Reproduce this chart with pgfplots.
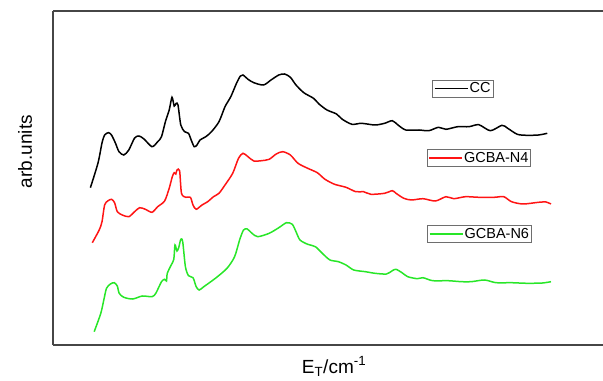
\documentclass[border=0pt]{standalone}
\usepackage{fontspec}
\setmainfont{Liberation Sans}
\usepackage{pgfplots}
\pgfplotsset{compat=1.18}
\definecolor{axgray}{RGB}{70,70,70}
\definecolor{leggray}{RGB}{110,110,110}
\definecolor{cred}{RGB}{255,20,20}
\definecolor{cgreen}{RGB}{40,230,40}
\pgfplotsset{
  base/.style={
    scale only axis, width=550bp, height=334bp,
    xmin=53, xmax=603, ymin=0, ymax=334,
    xtick=\empty, ytick=\empty, clip=false, hide axis,
    legend cell align=left,
    legend style={draw=leggray, line width=0.8bp, inner xsep=1.2bp, inner ysep=1.5bp,
      font=\fontsize{14.5bp}{17bp}\selectfont, fill=white,
      nodes={inner sep=1.2bp}},
    legend image code/.code={\draw[##1] (0bp,0bp) -- (33bp,0bp);},
    legend image post style={line width=1.5bp},
  },
  curve/.style={line width=1.5bp, smooth, tension=0.45, no marks},
}
\begin{document}
\begin{tikzpicture}
\begin{axis}[base,
  legend style={at={(axis cs:432.3,265.3)}, anchor=north west}]
\draw[axgray, line width=1.3bp] (rel axis cs:0,0) -- (rel axis cs:0,1);
\draw[axgray, line width=1.3bp] (rel axis cs:0,1) -- (rel axis cs:1,1);
\draw[axgray, line width=1.3bp] (rel axis cs:0,0) -- (rel axis cs:1,0);
\node[rotate=90, anchor=center, font=\fontsize{19bp}{22bp}\selectfont] at (rel axis cs:-0.0509,0.579) {arb.units};
\node[anchor=base, font=\fontsize{19bp}{22bp}\selectfont] at (rel axis cs:0.511,-0.0847) {E\textsubscript{T}/cm\textsuperscript{-1}};
\addplot[curve, black] coordinates {
(90.4,157.3) (98,182) (102,202) (104.6,210) (108.5,212.3) (111.5,210) (115.4,202) (119,193.3)
(123.8,190) (128.8,195) (134.6,207) (139,209) (144,206) (152,198.3) (157.7,203.3) (161.5,208.3)
(165.4,223.3) (169.2,235) (172,247.7) (174.2,239) (176.2,241.7) (178,240) (180.8,220) (184.6,213.3)
(188.5,211.7) (191.2,205) (194.2,198.3) (197,200) (200,205) (205.8,208.3) (211.5,213.3) (219,223.3)
(225,238.3) (230.8,248.3) (236.5,261.7) (240.4,269) (243,270) (248,265.7) (253.8,262.3) (263.5,260)
(271,265) (278.8,270) (284.6,271) (290.4,267.7) (296,260) (303.8,252.3) (313.5,246.7) (319,241)
(327,235) (336.5,231) (342.3,225.7) (352,220.7) (361.5,221.7) (375,220) (384.6,221.7) (392.3,224.3)
(398,220) (405.8,215) (419,215) (428.8,214.3) (438.5,217.7) (446,215.7) (457.7,218.3) (469,218.3)
(478.8,220.3) (490.4,214.3) (502,219.7) (507.7,216.7) (517.3,210.7) (527,209.7) (538.5,210) (547.3,211.7)
};
\addlegendentry{CC}
\end{axis}
\begin{axis}[base,
  legend style={at={(axis cs:426.7,195.7)}, anchor=north west}]
\addplot[curve, cred] coordinates {
(92.3,102.3) (99.2,115) (102,123.3) (104.6,140) (107.7,144) (111.5,145.7) (114.6,142.3) (117.3,133.3)
(122.3,130) (128.8,128.3) (134.6,133.3) (139.6,137.3) (145.4,135.7) (152,132.7) (157.7,138.3) (164.6,144)
(169.2,156.7) (172.3,168.3) (174.2,172.3) (175.8,171) (177,175) (179.6,174.3) (181.5,151.7) (185.8,147.7)
(190.4,147.7) (193,140) (196.2,135.7) (202,140) (207.7,143.3) (213.5,148.3) (219,151.7) (225,160)
(232.7,171.7) (238.5,186.7) (243,191.7) (248,188.3) (253.8,184) (261.5,184.3) (269.2,185.7) (276.2,191)
(282.7,193.3) (290.4,190) (298,181.7) (307.7,176.7) (317.3,172.3) (325,165.7) (334.6,160.7) (346,157.7)
(355.8,153.3) (363.5,153.3) (371,150.7) (384.6,151.7) (392.3,154.3) (396,151.7) (403.8,146.7) (411.5,145)
(423,146.3) (435.4,144) (446,148.3) (453.8,146.3) (465.4,148.3) (478.8,147.7) (494.2,147.7) (503.8,148.3)
(511.5,143.3) (523,141) (538.5,142.7) (546,143) (551,141)
};
\addlegendentry{GCBA-N4}
\end{axis}
\begin{axis}[base,
  legend style={at={(axis cs:427.3,120)}, anchor=north west}]
\addplot[curve, cgreen] coordinates {
(94.2,13.3) (100.8,31.7) (103.8,45) (106.5,56.7) (110.4,61) (114.2,62.3) (117.3,59) (119.2,51.7)
(123.8,47.7) (132.7,46) (142.3,49) (152,48.3) (155.8,51.7) (161.5,63.3) (164.6,65.7) (166.5,64)
(167.3,71.7) (171.2,80) (173.8,85.7) (175,100) (177,94) (178.8,97.7) (180.8,105.7) (182.7,103.3)
(185.4,78.3) (188.5,69.3) (193,67.3) (196.2,58.3) (199.2,55) (203.8,58.3) (215.4,66.7) (227,76.7)
(234.6,88.3) (239.6,105) (243.5,115) (247.3,116) (252,111.7) (257.7,108.3) (269.2,111.7) (278.8,117.3)
(286.5,122.3) (292.3,120.7) (296,113.3) (300,105) (307.7,100.7) (315.4,98.3) (323,91) (330,85)
(338.5,83.3) (346,80) (353.8,75) (365.4,73.3) (375,71.7) (386.5,71) (392.3,74.3) (396,75.7)
(402,72.3) (407.7,68.3) (417.3,66.3) (423,67.3) (432.7,64.3) (448,64.3) (461.5,63.3) (471.2,63.3)
(484.6,65) (496,62.3) (511.5,62.3) (527,61.7) (542.3,62) (551,63.3)
};
\addlegendentry{GCBA-N6}
\end{axis}
\pgfresetboundingbox
\path[use as bounding box] (-53bp,-36bp) rectangle (550bp,345bp);
\end{tikzpicture}
\end{document}
